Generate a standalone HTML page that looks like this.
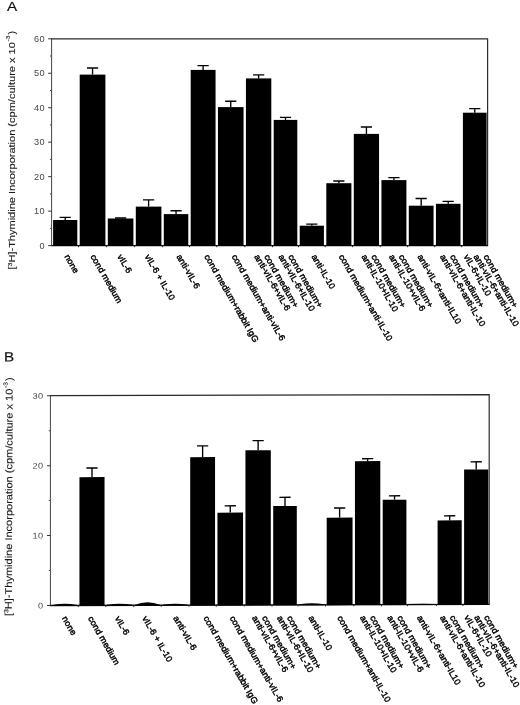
<!DOCTYPE html>
<html lang="en">
<head>
<meta charset="utf-8">
<title>Figure: [3H]-Thymidine Incorporation</title>
<style>
html,body{margin:0;padding:0;background:#fff;}
body{width:520px;height:705px;overflow:hidden;}
svg{display:block;will-change:transform;font-family:'Liberation Sans', Arial, Helvetica, sans-serif;}
</style>
</head>
<body>
<svg width="520" height="705" viewBox="0 0 520 705">
<rect x="0" y="0" width="520" height="705" fill="#fff"/>
<g>
<text transform="translate(7 10.9) scale(1.12 1)" font-size="13.6" fill="#111" stroke="#111" stroke-width="0.2">A</text>
<path d="M51.6 245.6V38.8" fill="none" stroke="#444" stroke-width="1"/>
<path d="M51.1 38.8H487.6V245.6" fill="none" stroke="#2a2a2a" stroke-width="1.2"/>
<path d="M51.1 245.6H488.1" fill="none" stroke="#111" stroke-width="1.4"/>
<path d="M48.2 245.6H51.6" stroke="#333" stroke-width="1"/>
<text transform="translate(45 248.55) scale(1.12 1)" font-size="8.2" text-anchor="end" letter-spacing="0.35" fill="#444">0</text>
<path d="M48.2 211.13H51.6" stroke="#333" stroke-width="1"/>
<text transform="translate(45 214.08) scale(1.12 1)" font-size="8.2" text-anchor="end" letter-spacing="0.35" fill="#444">10</text>
<path d="M48.2 176.67H51.6" stroke="#333" stroke-width="1"/>
<text transform="translate(45 179.62) scale(1.12 1)" font-size="8.2" text-anchor="end" letter-spacing="0.35" fill="#444">20</text>
<path d="M48.2 142.2H51.6" stroke="#333" stroke-width="1"/>
<text transform="translate(45 145.15) scale(1.12 1)" font-size="8.2" text-anchor="end" letter-spacing="0.35" fill="#444">30</text>
<path d="M48.2 107.73H51.6" stroke="#333" stroke-width="1"/>
<text transform="translate(45 110.68) scale(1.12 1)" font-size="8.2" text-anchor="end" letter-spacing="0.35" fill="#444">40</text>
<path d="M48.2 73.27H51.6" stroke="#333" stroke-width="1"/>
<text transform="translate(45 76.22) scale(1.12 1)" font-size="8.2" text-anchor="end" letter-spacing="0.35" fill="#444">50</text>
<path d="M48.2 38.8H51.6" stroke="#333" stroke-width="1"/>
<text transform="translate(45 41.75) scale(1.12 1)" font-size="8.2" text-anchor="end" letter-spacing="0.35" fill="#444">60</text>
<path d="M50 228.37H51.6" stroke="#444" stroke-width="1"/>
<path d="M50 193.9H51.6" stroke="#444" stroke-width="1"/>
<path d="M50 159.43H51.6" stroke="#444" stroke-width="1"/>
<path d="M50 124.97H51.6" stroke="#444" stroke-width="1"/>
<path d="M50 90.5H51.6" stroke="#444" stroke-width="1"/>
<path d="M50 56.03H51.6" stroke="#444" stroke-width="1"/>
<rect x="53.1" y="220" width="24.2" height="26" fill="#000"/>
<path d="M65.2 220V217.3M59.6 217.3H70.8" stroke="#000" stroke-width="1.35" fill="none"/>
<rect x="79.7" y="74.6" width="25.7" height="171.4" fill="#000"/>
<path d="M92.55 74.6V68M86.95 68H98.15" stroke="#000" stroke-width="1.35" fill="none"/>
<rect x="107.8" y="218.5" width="25.6" height="27.5" fill="#000"/>
<path d="M120.6 218.5V218M115 218H126.2" stroke="#000" stroke-width="1.35" fill="none"/>
<rect x="135.8" y="206.6" width="25.6" height="39.4" fill="#000"/>
<path d="M148.6 206.6V199.8M143 199.8H154.2" stroke="#000" stroke-width="1.35" fill="none"/>
<rect x="163.8" y="214.1" width="24.5" height="31.9" fill="#000"/>
<path d="M176.05 214.1V210.7M170.45 210.7H181.65" stroke="#000" stroke-width="1.35" fill="none"/>
<rect x="190.7" y="69.9" width="24.85" height="176.1" fill="#000"/>
<path d="M203.12 69.9V65.6M197.53 65.6H208.72" stroke="#000" stroke-width="1.35" fill="none"/>
<rect x="217.95" y="107.1" width="25.6" height="138.9" fill="#000"/>
<path d="M230.75 107.1V101.2M225.15 101.2H236.35" stroke="#000" stroke-width="1.35" fill="none"/>
<rect x="245.95" y="78.4" width="25.35" height="167.6" fill="#000"/>
<path d="M258.62 78.4V74.9M253.03 74.9H264.23" stroke="#000" stroke-width="1.35" fill="none"/>
<rect x="273.7" y="119.9" width="23.6" height="126.1" fill="#000"/>
<path d="M285.5 119.9V117.4M279.9 117.4H291.1" stroke="#000" stroke-width="1.35" fill="none"/>
<rect x="299.7" y="225.7" width="24.2" height="20.3" fill="#000"/>
<path d="M311.8 225.7V224.1M306.2 224.1H317.4" stroke="#000" stroke-width="1.35" fill="none"/>
<rect x="326.3" y="183.2" width="25.1" height="62.8" fill="#000"/>
<path d="M338.85 183.2V181M333.25 181H344.45" stroke="#000" stroke-width="1.35" fill="none"/>
<rect x="353.8" y="133.9" width="25.25" height="112.1" fill="#000"/>
<path d="M366.43 133.9V127M360.82 127H372.03" stroke="#000" stroke-width="1.35" fill="none"/>
<rect x="381.45" y="180.1" width="24.95" height="65.9" fill="#000"/>
<path d="M393.93 180.1V177.6M388.32 177.6H399.53" stroke="#000" stroke-width="1.35" fill="none"/>
<rect x="408.8" y="205.7" width="24.75" height="40.3" fill="#000"/>
<path d="M421.18 205.7V198.5M415.57 198.5H426.78" stroke="#000" stroke-width="1.35" fill="none"/>
<rect x="435.95" y="203.8" width="24.55" height="42.2" fill="#000"/>
<path d="M448.23 203.8V201.3M442.62 201.3H453.83" stroke="#000" stroke-width="1.35" fill="none"/>
<rect x="462.9" y="112.7" width="23.7" height="133.3" fill="#000"/>
<path d="M474.75 112.7V108.6M469.15 108.6H480.35" stroke="#000" stroke-width="1.35" fill="none"/>
<path d="M78.5 245.6V247.2" stroke="#222" stroke-width="1"/>
<path d="M106.6 245.6V247.2" stroke="#222" stroke-width="1"/>
<path d="M134.6 245.6V247.2" stroke="#222" stroke-width="1"/>
<path d="M162.6 245.6V247.2" stroke="#222" stroke-width="1"/>
<path d="M189.5 245.6V247.2" stroke="#222" stroke-width="1"/>
<path d="M216.75 245.6V247.2" stroke="#222" stroke-width="1"/>
<path d="M244.75 245.6V247.2" stroke="#222" stroke-width="1"/>
<path d="M272.5 245.6V247.2" stroke="#222" stroke-width="1"/>
<path d="M298.5 245.6V247.2" stroke="#222" stroke-width="1"/>
<path d="M325.1 245.6V247.2" stroke="#222" stroke-width="1"/>
<path d="M352.6 245.6V247.2" stroke="#222" stroke-width="1"/>
<path d="M380.25 245.6V247.2" stroke="#222" stroke-width="1"/>
<path d="M407.6 245.6V247.2" stroke="#222" stroke-width="1"/>
<path d="M434.75 245.6V247.2" stroke="#222" stroke-width="1"/>
<path d="M461.7 245.6V247.2" stroke="#222" stroke-width="1"/>
<text transform="translate(64.2 256.4) rotate(60) scale(1.06 1)" font-size="8.6" fill="#000" stroke="#000" stroke-width="0.42">none</text>
<text transform="translate(90.3 256.4) rotate(60) scale(1.06 1)" font-size="8.6" fill="#000" stroke="#000" stroke-width="0.42">cond medium</text>
<text transform="translate(117.1 256.4) rotate(60) scale(1.06 1)" font-size="8.6" fill="#000" stroke="#000" stroke-width="0.42">vIL-6</text>
<text transform="translate(144.6 256.4) rotate(60) scale(1.06 1)" font-size="8.6" fill="#000" stroke="#000" stroke-width="0.42">vIL-6 + IL-10</text>
<text transform="translate(176.3 256.4) rotate(60) scale(1.06 1)" font-size="8.6" fill="#000" stroke="#000" stroke-width="0.42">anti-vIL-6</text>
<text transform="translate(204.12 256.4) rotate(60) scale(1.06 1)" font-size="8.6" fill="#000" stroke="#000" stroke-width="0.42">cond medium+rabbit IgG</text>
<text transform="translate(231.5 256.4) rotate(60) scale(1.06 1)" font-size="8.6" fill="#000" stroke="#000" stroke-width="0.42">cond medium+anti-vIL-6</text>
<text transform="translate(263.97 256.4) rotate(60) scale(1.06 1)" font-size="8.6" fill="#000" stroke="#000" stroke-width="0.42">cond medium+</text>
<text transform="translate(254.08 256.4) rotate(60) scale(1.06 1)" font-size="8.6" fill="#000" stroke="#000" stroke-width="0.42">anti-vIL-6+vIL-6</text>
<text transform="translate(288.05 256.4) rotate(60) scale(1.06 1)" font-size="8.6" fill="#000" stroke="#000" stroke-width="0.42">cond medium+</text>
<text transform="translate(278.15 256.4) rotate(60) scale(1.06 1)" font-size="8.6" fill="#000" stroke="#000" stroke-width="0.42">anti-vIL-6+IL-10</text>
<text transform="translate(311.3 256.4) rotate(60) scale(1.06 1)" font-size="8.6" fill="#000" stroke="#000" stroke-width="0.42">anti-IL-10</text>
<text transform="translate(338.6 256.4) rotate(60) scale(1.06 1)" font-size="8.6" fill="#000" stroke="#000" stroke-width="0.42">cond medium+anti-IL-10</text>
<text transform="translate(371.12 256.4) rotate(60) scale(1.06 1)" font-size="8.6" fill="#000" stroke="#000" stroke-width="0.42">cond medium+</text>
<text transform="translate(361.23 256.4) rotate(60) scale(1.06 1)" font-size="8.6" fill="#000" stroke="#000" stroke-width="0.42">anti-IL-10+IL-10</text>
<text transform="translate(398.62 256.4) rotate(60) scale(1.06 1)" font-size="8.6" fill="#000" stroke="#000" stroke-width="0.42">cond medium+</text>
<text transform="translate(388.73 256.4) rotate(60) scale(1.06 1)" font-size="8.6" fill="#000" stroke="#000" stroke-width="0.42">anti-IL-10+vIL-6</text>
<text transform="translate(417.18 256.4) rotate(60) scale(1.06 1)" font-size="8.6" fill="#000" stroke="#000" stroke-width="0.42">anti-vIL-6+anti-IL10</text>
<text transform="translate(449.68 256.4) rotate(60) scale(1.06 1)" font-size="8.6" fill="#000" stroke="#000" stroke-width="0.42">cond medium+</text>
<text transform="translate(439.78 256.4) rotate(60) scale(1.06 1)" font-size="8.6" fill="#000" stroke="#000" stroke-width="0.42">anti-vIL-6+anti-IL-10</text>
<text transform="translate(483.25 256.4) rotate(60) scale(1.06 1)" font-size="8.6" fill="#000" stroke="#000" stroke-width="0.42">cond medium+</text>
<text transform="translate(473.35 256.4) rotate(60) scale(1.06 1)" font-size="8.6" fill="#000" stroke="#000" stroke-width="0.42">anti-vIL-6+anti-IL-10</text>
<text transform="translate(463.45 256.4) rotate(60) scale(1.06 1)" font-size="8.6" fill="#000" stroke="#000" stroke-width="0.42">vIL-6+IL-10</text>
<text transform="translate(15.4 269.5) rotate(-90) scale(1.125 1)" font-size="9.8" fill="#1a1a1a" stroke="#1a1a1a" stroke-width="0.12">[<tspan dy="-3.6" font-size="6.2">3</tspan><tspan dy="3.6">H]-Thymidine Incorporation (cpm/culture x 10</tspan><tspan dy="-5" dx="0.6" font-size="5.9">-3</tspan><tspan dy="5" dx="1">)</tspan></text>
</g>
<g transform="translate(0 0.13) skewY(-0.15)">
<text transform="translate(4.1 361.4) scale(1.12 1)" font-size="13.6" fill="#111" stroke="#111" stroke-width="0.2">B</text>
<path d="M50.4 605.5V395.7" fill="none" stroke="#444" stroke-width="1"/>
<path d="M49.9 395.7H489.2V605.5" fill="none" stroke="#2a2a2a" stroke-width="1.2"/>
<path d="M49.9 605.5H489.7" fill="none" stroke="#111" stroke-width="1.4"/>
<path d="M47 605.5H50.4" stroke="#333" stroke-width="1"/>
<text transform="translate(43.4 608.45) scale(1.12 1)" font-size="8.2" text-anchor="end" letter-spacing="0.35" fill="#444">0</text>
<path d="M47 535.57H50.4" stroke="#333" stroke-width="1"/>
<text transform="translate(43.4 538.52) scale(1.12 1)" font-size="8.2" text-anchor="end" letter-spacing="0.35" fill="#444">10</text>
<path d="M47 465.63H50.4" stroke="#333" stroke-width="1"/>
<text transform="translate(43.4 468.58) scale(1.12 1)" font-size="8.2" text-anchor="end" letter-spacing="0.35" fill="#444">20</text>
<path d="M47 395.7H50.4" stroke="#333" stroke-width="1"/>
<text transform="translate(43.4 398.65) scale(1.12 1)" font-size="8.2" text-anchor="end" letter-spacing="0.35" fill="#444">30</text>
<path d="M48.8 570.53H50.4" stroke="#444" stroke-width="1"/>
<path d="M48.8 500.6H50.4" stroke="#444" stroke-width="1"/>
<path d="M48.8 430.67H50.4" stroke="#444" stroke-width="1"/>
<path d="M52 605.9V605Q64.53 602.67 77.05 605V605.9Z" fill="#000"/>
<rect x="79.45" y="477.21" width="25.1" height="128.69" fill="#000"/>
<path d="M92 477.21V468.11M86.4 468.11H97.6" stroke="#000" stroke-width="1.35" fill="none"/>
<path d="M106.95 605.9V605Q119.75 602.96 132.55 605V605.9Z" fill="#000"/>
<path d="M134.95 605.9V605Q147.5 599.91 160.05 605V605.9Z" fill="#000"/>
<path d="M162.45 605.9V605Q175.12 603.25 187.8 605V605.9Z" fill="#000"/>
<rect x="190.2" y="457.5" width="24.85" height="148.4" fill="#000"/>
<path d="M202.62 457.5V446.3M197.03 446.3H208.22" stroke="#000" stroke-width="1.35" fill="none"/>
<rect x="217.45" y="513.07" width="25.6" height="92.83" fill="#000"/>
<path d="M230.25 513.07V506.27M224.65 506.27H235.85" stroke="#000" stroke-width="1.35" fill="none"/>
<rect x="245.45" y="450.74" width="25.35" height="155.16" fill="#000"/>
<path d="M258.12 450.74V441.14M252.53 441.14H263.73" stroke="#000" stroke-width="1.35" fill="none"/>
<rect x="273.2" y="506.71" width="23.6" height="99.19" fill="#000"/>
<path d="M285 506.71V497.91M279.4 497.91H290.6" stroke="#000" stroke-width="1.35" fill="none"/>
<path d="M299.2 605.9V605Q311.75 602.77 324.3 605V605.9Z" fill="#000"/>
<rect x="326.7" y="518.36" width="25.85" height="87.54" fill="#000"/>
<path d="M339.62 518.36V508.76M334.02 508.76H345.23" stroke="#000" stroke-width="1.35" fill="none"/>
<rect x="354.95" y="461.93" width="25.35" height="143.97" fill="#000"/>
<path d="M367.62 461.93V459.53M362.02 459.53H373.23" stroke="#000" stroke-width="1.35" fill="none"/>
<rect x="382.7" y="500.7" width="23.7" height="105.2" fill="#000"/>
<path d="M394.55 500.7V496.7M388.95 496.7H400.15" stroke="#000" stroke-width="1.35" fill="none"/>
<path d="M408.8 605.9V605Q422 604.55 435.2 605V605.9Z" fill="#000"/>
<rect x="437.6" y="521.45" width="24.1" height="84.45" fill="#000"/>
<path d="M449.65 521.45V516.85M444.05 516.85H455.25" stroke="#000" stroke-width="1.35" fill="none"/>
<rect x="464.1" y="470.71" width="24.2" height="135.19" fill="#000"/>
<path d="M476.2 470.71V462.91M470.6 462.91H481.8" stroke="#000" stroke-width="1.35" fill="none"/>
<path d="M78.25 605.5V607.1" stroke="#222" stroke-width="1"/>
<path d="M105.75 605.5V607.1" stroke="#222" stroke-width="1"/>
<path d="M133.75 605.5V607.1" stroke="#222" stroke-width="1"/>
<path d="M161.25 605.5V607.1" stroke="#222" stroke-width="1"/>
<path d="M189 605.5V607.1" stroke="#222" stroke-width="1"/>
<path d="M216.25 605.5V607.1" stroke="#222" stroke-width="1"/>
<path d="M244.25 605.5V607.1" stroke="#222" stroke-width="1"/>
<path d="M272 605.5V607.1" stroke="#222" stroke-width="1"/>
<path d="M298 605.5V607.1" stroke="#222" stroke-width="1"/>
<path d="M325.5 605.5V607.1" stroke="#222" stroke-width="1"/>
<path d="M353.75 605.5V607.1" stroke="#222" stroke-width="1"/>
<path d="M381.5 605.5V607.1" stroke="#222" stroke-width="1"/>
<path d="M407.6 605.5V607.1" stroke="#222" stroke-width="1"/>
<path d="M436.4 605.5V607.1" stroke="#222" stroke-width="1"/>
<path d="M462.9 605.5V607.1" stroke="#222" stroke-width="1"/>
<text transform="translate(61.78 618.4) rotate(60) scale(1.06 1)" font-size="8.6" fill="#000" stroke="#000" stroke-width="0.42">none</text>
<text transform="translate(87.75 618.4) rotate(60) scale(1.06 1)" font-size="8.6" fill="#000" stroke="#000" stroke-width="0.42">cond medium</text>
<text transform="translate(114.75 618.4) rotate(60) scale(1.06 1)" font-size="8.6" fill="#000" stroke="#000" stroke-width="0.42">vIL-6</text>
<text transform="translate(142 618.4) rotate(60) scale(1.06 1)" font-size="8.6" fill="#000" stroke="#000" stroke-width="0.42">vIL-6 + IL-10</text>
<text transform="translate(173.12 618.4) rotate(60) scale(1.06 1)" font-size="8.6" fill="#000" stroke="#000" stroke-width="0.42">anti-vIL-6</text>
<text transform="translate(203.32 618.4) rotate(60) scale(1.06 1)" font-size="8.6" fill="#000" stroke="#000" stroke-width="0.42">cond medium+rabbit IgG</text>
<text transform="translate(229.5 618.4) rotate(60) scale(1.06 1)" font-size="8.6" fill="#000" stroke="#000" stroke-width="0.42">cond medium+anti-vIL-6</text>
<text transform="translate(261.68 618.4) rotate(60) scale(1.06 1)" font-size="8.6" fill="#000" stroke="#000" stroke-width="0.42">cond medium+</text>
<text transform="translate(251.78 618.4) rotate(60) scale(1.06 1)" font-size="8.6" fill="#000" stroke="#000" stroke-width="0.42">anti-vIL-6+vIL-6</text>
<text transform="translate(286.7 618.4) rotate(60) scale(1.06 1)" font-size="8.6" fill="#000" stroke="#000" stroke-width="0.42">cond medium+</text>
<text transform="translate(276.8 618.4) rotate(60) scale(1.06 1)" font-size="8.6" fill="#000" stroke="#000" stroke-width="0.42">anti-vIL-6+IL-10</text>
<text transform="translate(308.25 618.4) rotate(60) scale(1.06 1)" font-size="8.6" fill="#000" stroke="#000" stroke-width="0.42">anti-IL-10</text>
<text transform="translate(336.88 618.4) rotate(60) scale(1.06 1)" font-size="8.6" fill="#000" stroke="#000" stroke-width="0.42">cond medium+anti-IL-10</text>
<text transform="translate(369.68 618.4) rotate(60) scale(1.06 1)" font-size="8.6" fill="#000" stroke="#000" stroke-width="0.42">cond medium+</text>
<text transform="translate(359.78 618.4) rotate(60) scale(1.06 1)" font-size="8.6" fill="#000" stroke="#000" stroke-width="0.42">anti-IL-10+IL-10</text>
<text transform="translate(397 618.4) rotate(60) scale(1.06 1)" font-size="8.6" fill="#000" stroke="#000" stroke-width="0.42">cond medium+</text>
<text transform="translate(387.1 618.4) rotate(60) scale(1.06 1)" font-size="8.6" fill="#000" stroke="#000" stroke-width="0.42">anti-IL-10+vIL-6</text>
<text transform="translate(416.75 618.4) rotate(60) scale(1.06 1)" font-size="8.6" fill="#000" stroke="#000" stroke-width="0.42">anti-vIL-6+anti-IL10</text>
<text transform="translate(449.6 618.4) rotate(60) scale(1.06 1)" font-size="8.6" fill="#000" stroke="#000" stroke-width="0.42">cond medium+</text>
<text transform="translate(439.7 618.4) rotate(60) scale(1.06 1)" font-size="8.6" fill="#000" stroke="#000" stroke-width="0.42">anti-vIL-6+anti-IL-10</text>
<text transform="translate(483.8 618.4) rotate(60) scale(1.06 1)" font-size="8.6" fill="#000" stroke="#000" stroke-width="0.42">cond medium+</text>
<text transform="translate(473.9 618.4) rotate(60) scale(1.06 1)" font-size="8.6" fill="#000" stroke="#000" stroke-width="0.42">anti-vIL-6+anti-IL-10</text>
<text transform="translate(464 618.4) rotate(60) scale(1.06 1)" font-size="8.6" fill="#000" stroke="#000" stroke-width="0.42">vIL-6+IL-10</text>
<text transform="translate(11.8 616) rotate(-89.8) scale(1.125 1)" font-size="9.8" fill="#1a1a1a" stroke="#1a1a1a" stroke-width="0.12">[<tspan dy="-3.6" font-size="6.2">3</tspan><tspan dy="3.6">H]-Thymidine Incorporation (cpm/culture x 10</tspan><tspan dy="-5" dx="0.6" font-size="5.9">-3</tspan><tspan dy="5" dx="1">)</tspan></text>
</g>
</svg>
</body>
</html>
